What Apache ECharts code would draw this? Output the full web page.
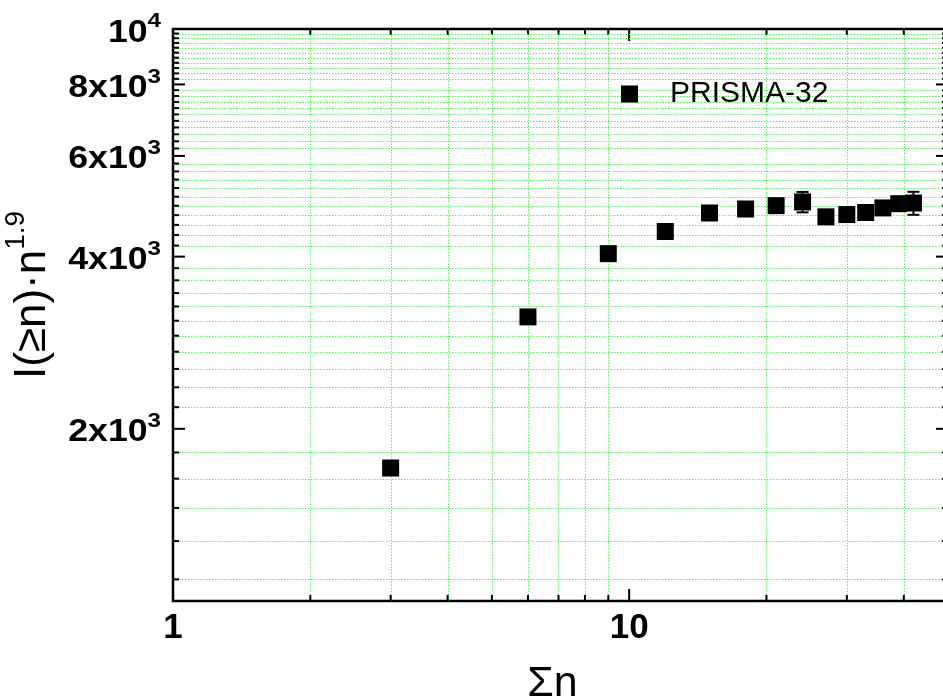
<!DOCTYPE html>
<html>
<head>
<meta charset="utf-8">
<script src="https://cdn.jsdelivr.net/npm/echarts@6/dist/echarts.min.js"></script>
<style>
  html, body { margin: 0; padding: 0; background: #fff; }
  #chart { width: 943px; height: 700px; }
</style>
</head>
<body>
<div id="chart"></div>
<script>
// PRISMA-32: I(>=n)*n^1.9 against sum n
const sumN = [3, 6, 9, 12, 15, 18, 21, 24, 27, 30, 33, 36, 39, 42];
const intensity = [1708, 3138, 4048, 4426, 4768, 4845, 4911, 4985, 4695, 4738, 4777, 4866, 4950, 4963];
const intensityErr = [0, 0, 0, 0, 0, 0, 0, 205, 0, 0, 0, 0, 0, 230];

const xMajorTicks = [1, 10];
const xMinorTicks = [2, 3, 4, 5, 6, 7, 8, 9, 20, 30, 40];
const yMajorTicks = [2000, 4000, 6000, 8000, 10000];
const yLabelBase = ['2x10', '4x10', '6x10', '8x10', '10'];
const yLabelExp = ['3', '3', '3', '3', '4'];
const yMinorPerMajor = 10;

const X_MIN = 1, X_MAX = 50, Y_MIN = 1000, Y_MAX = 10000;
const FONT = 'Liberation Sans, Arial, Helvetica, sans-serif';
const MAJOR_LEN = 12, MINOR_LEN = 6;

// origin style minor ticks: 10 between each pair of majors
const yStep = (yMajorTicks[1] - yMajorTicks[0]) / (yMinorPerMajor + 1);
const yMinorTicks = [];
for (let k = 1; k * yStep < Y_MAX - 1; k++) {
  if (k % (yMinorPerMajor + 1) === 0) continue;
  if (k * yStep > Y_MIN) yMinorTicks.push(k * yStep);
}

const tickStyle = { stroke: '#000', lineWidth: 2 };
const gridStyle = { stroke: '#55f055', lineWidth: 1, lineDash: [1.5, 1.5] };
const snap = v => Math.round(v) + 0.5; // crisp 1px dotted lines

const xTickData = xMajorTicks.map(v => [v, Y_MIN, 1]).concat(xMinorTicks.map(v => [v, Y_MIN, 0]));
const yTickData = yMajorTicks.map(v => [X_MIN, v, 1]).concat(yMinorTicks.map(v => [X_MIN, v, 0]));

const chart = echarts.init(document.getElementById('chart'));

chart.setOption({
  animation: false,
  grid: {
    show: true,
    left: 173,
    top: 29,
    right: -5,
    bottom: 99,
    containLabel: false,
    outerBoundsMode: 'none',
    borderColor: '#000',
    borderWidth: 2.5,
    backgroundColor: 'transparent'
  },
  legend: {
    data: ['PRISMA-32'],
    left: 616,
    top: 74,
    icon: 'rect',
    itemWidth: 17,
    itemHeight: 17,
    textStyle: { fontFamily: FONT, fontSize: 30, color: '#000', padding: [0, 0, 0, 27] }
  },
  xAxis: {
    type: 'log',
    logBase: 10,
    min: X_MIN,
    max: X_MAX,
    name: 'Σn',
    nameLocation: 'middle',
    nameGap: 62,
    nameTextStyle: { fontFamily: FONT, fontSize: 43, color: '#000', padding: [0, 16, 0, 0] },
    axisLine: { show: false },
    axisTick: { show: false },
    splitLine: { show: false },
    minorTick: { show: false },
    axisLabel: {
      fontFamily: FONT, fontSize: 35, fontWeight: 'bold', color: '#000', margin: 10,
      showMaxLabel: false,
      formatter: v => (xMajorTicks.indexOf(v) >= 0 ? String(v) : '')
    }
  },
  yAxis: {
    type: 'log',
    logBase: 10,
    min: Y_MIN,
    max: Y_MAX,
    name: '{a|I(≥n)·n}{s|1.9}',
    nameLocation: 'middle',
    nameRotate: 90,
    nameGap: 109,
    nameTextStyle: {
      padding: [0, 0, 0, 40],
      rich: {
        a: { fontFamily: FONT, fontSize: 44, color: '#000', lineHeight: 62 },
        s: { fontFamily: FONT, fontSize: 28, color: '#000', verticalAlign: 'top', lineHeight: 28 }
      }
    },
    axisLine: { show: false },
    axisTick: { show: false },
    splitLine: { show: false },
    axisLabel: { show: false }
  },
  series: [
    {
      name: 'xTicks',
      type: 'custom',
      z: 1,
      clip: false,
      silent: true,
      data: xTickData,
      renderItem: (params, api) => {
        const v = api.value(0);
        const major = api.value(2) === 1;
        const b = api.coord([v, Y_MIN]);
        const t = api.coord([v, Y_MAX]);
        const len = major ? MAJOR_LEN : MINOR_LEN;
        const children = [];
        if (!major) {
          const gx = snap(b[0]);
          children.push({ type: 'line', shape: { x1: gx, y1: b[1], x2: gx, y2: t[1] }, style: gridStyle });
        }
        children.push({ type: 'line', shape: { x1: b[0], y1: b[1], x2: b[0], y2: b[1] - len }, style: tickStyle });
        children.push({ type: 'line', shape: { x1: t[0], y1: t[1], x2: t[0], y2: t[1] + len }, style: tickStyle });
        return { type: 'group', children };
      }
    },
    {
      name: 'yTicks',
      type: 'custom',
      z: 1,
      clip: false,
      silent: true,
      data: yTickData,
      renderItem: (params, api) => {
        const v = api.value(1);
        const major = api.value(2) === 1;
        const l = api.coord([X_MIN, v]);
        const r = api.coord([X_MAX, v]);
        const len = major ? MAJOR_LEN : MINOR_LEN;
        const children = [];
        if (!major) {
          const gy = snap(l[1]);
          children.push({ type: 'line', shape: { x1: l[0], y1: gy, x2: r[0], y2: gy }, style: gridStyle });
        }
        children.push({ type: 'line', shape: { x1: l[0], y1: l[1], x2: l[0] + len, y2: l[1] }, style: tickStyle });
        children.push({ type: 'line', shape: { x1: r[0], y1: r[1], x2: r[0] - len, y2: r[1] }, style: tickStyle });
        return { type: 'group', children };
      }
    },
    {
      name: 'yLabels',
      type: 'custom',
      z: 5,
      clip: false,
      silent: true,
      data: yMajorTicks.map((v, i) => [X_MIN, v, i]),
      renderItem: (params, api) => {
        const p = api.coord([X_MIN, api.value(1)]);
        const i = api.value(2);
        return {
          type: 'text',
          x: p[0] - 12,
          y: p[1] + 4,
          scaleX: 1.15,
          style: {
            text: '{b|' + yLabelBase[i] + '}{s|' + yLabelExp[i] + '}',
            align: 'right',
            verticalAlign: 'middle',
            rich: {
              b: { fontFamily: FONT, fontSize: 31, fontWeight: 'bold', fill: '#000', lineHeight: 44 },
              s: { fontFamily: FONT, fontSize: 21, fontWeight: 'bold', fill: '#000', verticalAlign: 'top', lineHeight: 21 }
            }
          }
        };
      }
    },
    {
      name: 'PRISMA-32',
      type: 'scatter',
      z: 3,
      symbol: 'rect',
      symbolSize: 17,
      itemStyle: { color: '#000', opacity: 1 },
      data: sumN.map((x, i) => [x, intensity[i]])
    },
    {
      name: 'errorBars',
      type: 'custom',
      z: 4,
      clip: false,
      silent: true,
      data: sumN.map((x, i) => [x, intensity[i], intensityErr[i]]),
      renderItem: (params, api) => {
        const x = api.value(0), y = api.value(1), e = api.value(2);
        if (!e) return { type: 'group', children: [] };
        const hi = api.coord([x, y + e]);
        const lo = api.coord([x, y - e]);
        const w = 6;
        return {
          type: 'group',
          children: [
            { type: 'line', shape: { x1: hi[0], y1: hi[1], x2: lo[0], y2: lo[1] }, style: tickStyle },
            { type: 'line', shape: { x1: hi[0] - w, y1: hi[1], x2: hi[0] + w, y2: hi[1] }, style: tickStyle },
            { type: 'line', shape: { x1: lo[0] - w, y1: lo[1], x2: lo[0] + w, y2: lo[1] }, style: tickStyle }
          ]
        };
      }
    }
  ]
});
</script>
</body>
</html>
